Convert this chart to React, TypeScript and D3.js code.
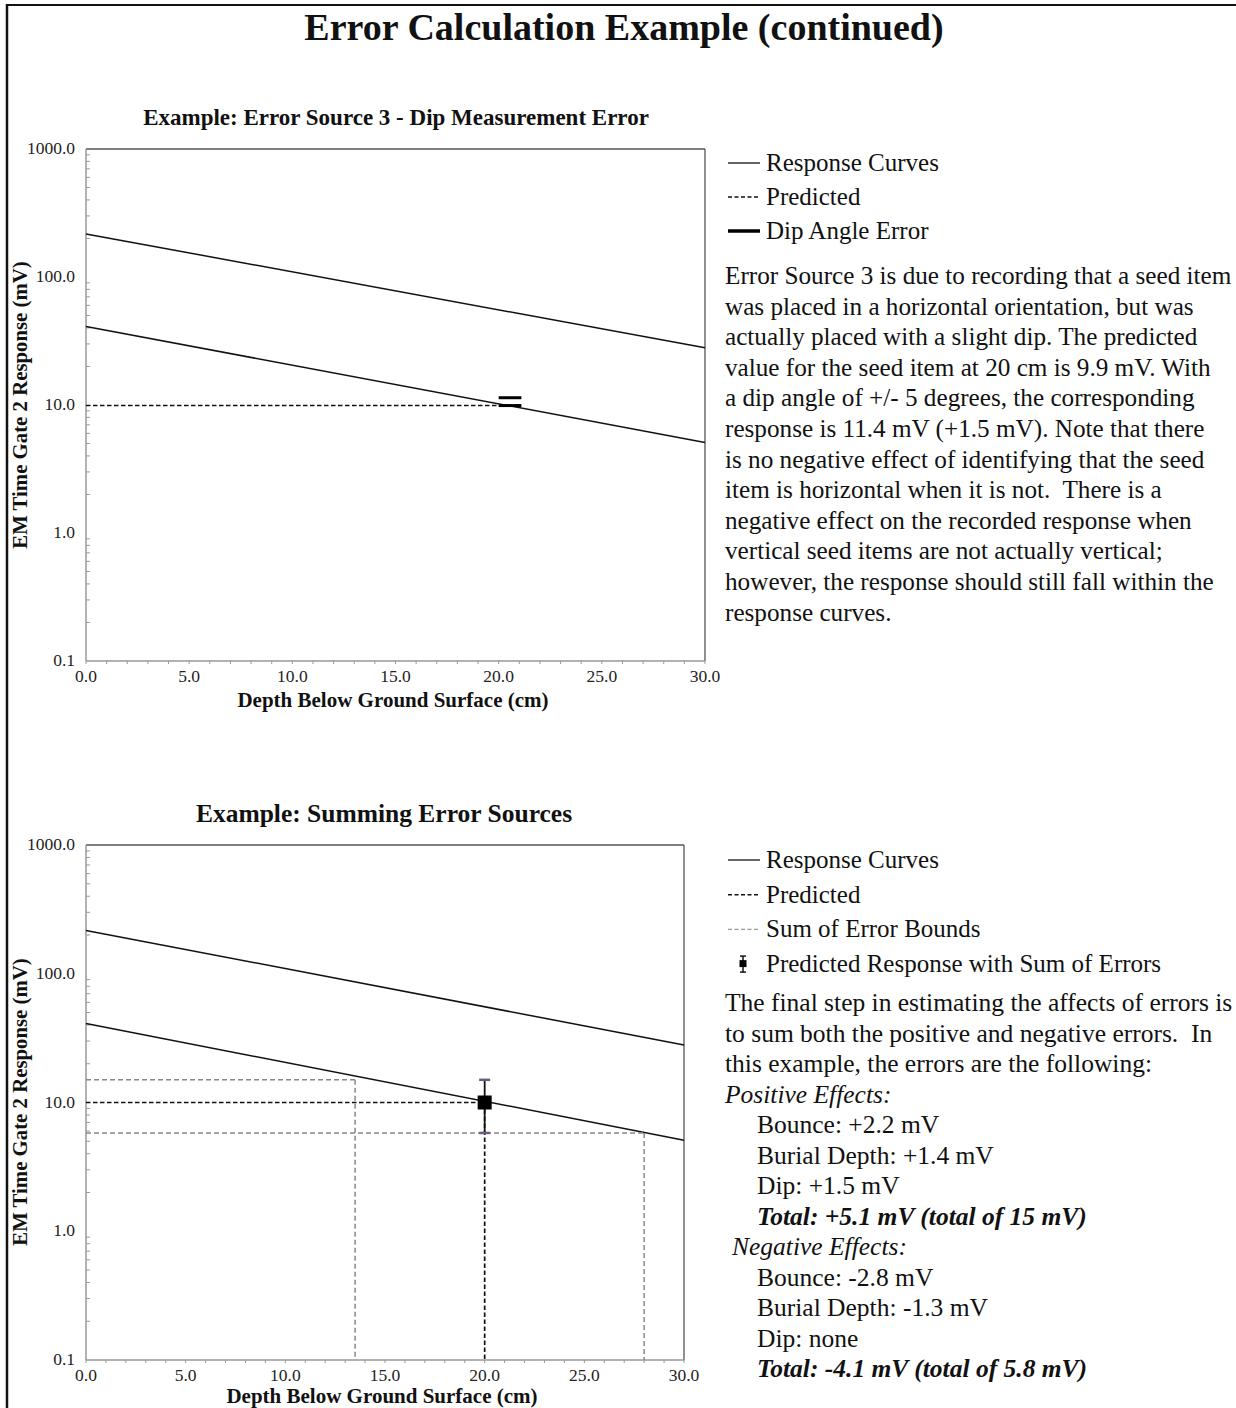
import React from "react";
import * as d3 from "d3";

// ---- data ----
const depthEnds = [0, 30];
const upperCurve = [217, 28];
const lowerCurve = [41, 5.1];
const xTicks = [0, 5, 10, 15, 20, 25, 30];
const yTicks = [0.1, 1, 10, 100, 1000];

const predictedDepth = 20;
const predictedTop = 9.9;
const dipError = [11.4, 9.9];
const dipErrorDepths = [20, 21.1];

const predictedBottom = 10;
const errorBounds = [15, 5.8];
const errorBoundDepths = [13.5, 28];

const legendTop = ["Response Curves", "Predicted", "Dip Angle Error"];
const legendBottom = ["Response Curves", "Predicted", "Sum of Error Bounds", "Predicted Response with Sum of Errors"];

const paraTop = [
  "Error Source 3 is due to recording that a seed item",
  "was placed in a horizontal orientation, but was",
  "actually placed with a slight dip. The predicted",
  "value for the seed item at 20 cm is 9.9 mV. With",
  "a dip angle of +/- 5 degrees, the corresponding",
  "response is 11.4 mV (+1.5 mV). Note that there",
  "is no negative effect of identifying that the seed",
  "item is horizontal when it is not.  There is a",
  "negative effect on the recorded response when",
  "vertical seed items are not actually vertical;",
  "however, the response should still fall within the",
  "response curves.",
];

// [text, indent x, style]
const paraBottom: [string, number, string][] = [
  ["The final step in estimating the affects of errors is", 725, "n"],
  ["to sum both the positive and negative errors.  In", 725, "n"],
  ["this example, the errors are the following:", 725, "n"],
  ["Positive Effects:", 725, "i"],
  ["Bounce: +2.2 mV", 757, "n"],
  ["Burial Depth: +1.4 mV", 757, "n"],
  ["Dip: +1.5 mV", 757, "n"],
  ["Total: +5.1 mV (total of 15 mV)", 757, "bi"],
  ["Negative Effects:", 732, "i"],
  ["Bounce: -2.8 mV", 757, "n"],
  ["Burial Depth: -1.3 mV", 757, "n"],
  ["Dip: none", 757, "n"],
  ["Total: -4.1 mV (total of 5.8 mV)", 757, "bi"],
];

const FONT = "'Liberation Serif', 'Times New Roman', serif";
const PARA = 25.5;
const PARA_A = 25.2;
const LEG = 25;

type Box = { left: number; right: number; top: number; bottom: number };

function Axes({ box, x, y }: { box: Box; x: any; y: any }) {
  const minorX = d3.range(0, 31, 1);
  const minorY: number[] = [];
  for (let e = -1; e < 3; e++) for (let k = 2; k <= 9; k++) minorY.push(k * Math.pow(10, e));
  return (
    <g>
      <line x1={box.left} x2={box.right} y1={box.top} y2={box.top} stroke="#555" strokeWidth={1.3} />
      <line x1={box.right} x2={box.right} y1={box.top} y2={box.bottom} stroke="#555" strokeWidth={1.3} />
      <line x1={box.left} x2={box.left} y1={box.top} y2={box.bottom} stroke="#999" strokeWidth={1.5} />
      <line x1={box.left} x2={box.right} y1={box.bottom} y2={box.bottom} stroke="#999" strokeWidth={1.5} />
      {minorX.map((v) => (
        <line key={"mx" + v} x1={x(v)} x2={x(v)} y1={box.bottom} y2={box.bottom + 3} stroke="#999" strokeWidth={1} />
      ))}
      {minorY.map((v) => (
        <line key={"my" + v} x1={box.left} x2={box.left + 4} y1={y(v)} y2={y(v)} stroke="#999" strokeWidth={1} />
      ))}
      {xTicks.map((v) => (
        <text key={"tx" + v} x={x(v)} y={box.bottom + 21} textAnchor="middle" fontSize={17.5} fontFamily={FONT} fill="#222">
          {v.toFixed(1)}
        </text>
      ))}
      {yTicks.map((v) => (
        <text key={"ty" + v} x={box.left - 11} y={y(v) + 5} textAnchor="end" fontSize={17.5} fontFamily={FONT} fill="#222">
          {v.toFixed(1)}
        </text>
      ))}
    </g>
  );
}

function Curves({ x, y }: { x: any; y: any }) {
  const line = d3
    .line<number>()
    .x((_, i) => x(depthEnds[i]))
    .y((d) => y(d));
  return (
    <g>
      <path d={line(upperCurve) || ""} fill="none" stroke="#111" strokeWidth={1.5} />
      <path d={line(lowerCurve) || ""} fill="none" stroke="#111" strokeWidth={1.5} />
    </g>
  );
}

export default function App() {
  const boxA: Box = { left: 86, right: 705, top: 149, bottom: 661 };
  const boxB: Box = { left: 86, right: 684, top: 845, bottom: 1360 };
  const xA = d3.scaleLinear().domain([0, 30]).range([boxA.left, boxA.right]);
  const yA = d3.scaleLog().domain([0.1, 1000]).range([boxA.bottom, boxA.top]);
  const xB = d3.scaleLinear().domain([0, 30]).range([boxB.left, boxB.right]);
  const yB = d3.scaleLog().domain([0.1, 1000]).range([boxB.bottom, boxB.top]);

  const legendX1 = 728;
  const legendX2 = 760;
  const legendTextX = 766;

  return (
    <svg width={1236} height={1408} style={{ position: "absolute", left: 0, top: 0, background: "#fff" }}>
      <rect x={0} y={0} width={1236} height={1408} fill="#fff" />
      {/* page border */}
      <line x1={6} x2={1236} y1={5} y2={5} stroke="#111" strokeWidth={2} />
      <line x1={7} x2={7} y1={4} y2={1408} stroke="#111" strokeWidth={2.5} />

      <text x={624} y={40} textAnchor="middle" fontSize={38} fontWeight="bold" fontFamily={FONT} fill="#111">
        Error Calculation Example (continued)
      </text>

      {/* ---------- Chart A ---------- */}
      <text x={396} y={125} textAnchor="middle" fontSize={23} fontWeight="bold" fontFamily={FONT} fill="#111">
        Example: Error Source 3 - Dip Measurement Error
      </text>
      <Axes box={boxA} x={xA} y={yA} />
      <Curves x={xA} y={yA} />
      <line x1={xA(0)} x2={xA(predictedDepth)} y1={yA(predictedTop)} y2={yA(predictedTop)} stroke="#111" strokeWidth={1.6} strokeDasharray="4.5,2.5" />
      {dipError.map((v, i) => (
        <line key={"dip" + i} x1={xA(dipErrorDepths[0])} x2={xA(dipErrorDepths[1])} y1={yA(v)} y2={yA(v)} stroke="#000" strokeWidth={3} />
      ))}
      <text x={393} y={707} textAnchor="middle" fontSize={21} fontWeight="bold" fontFamily={FONT} fill="#111">
        Depth Below Ground Surface (cm)
      </text>
      <text transform="translate(27,405) rotate(-90)" textAnchor="middle" fontSize={20.8} fontWeight="bold" fontFamily={FONT} fill="#111">
        EM Time Gate 2 Response (mV)
      </text>

      {/* legend A */}
      {legendTop.map((t, i) => {
        const cy = 163 + i * 34;
        return (
          <g key={"la" + i}>
            {i === 0 && <line x1={legendX1} x2={legendX2} y1={cy} y2={cy} stroke="#111" strokeWidth={1.3} />}
            {i === 1 && <line x1={legendX1} x2={legendX2} y1={cy} y2={cy} stroke="#111" strokeWidth={1.5} strokeDasharray="4,2.5" />}
            {i === 2 && <line x1={legendX1} x2={legendX2} y1={cy} y2={cy} stroke="#000" strokeWidth={3.5} />}
            <text x={legendTextX} y={cy + 8} fontSize={LEG} fontFamily={FONT} fill="#111">
              {t}
            </text>
          </g>
        );
      })}
      {paraTop.map((t, i) => (
        <text key={"pa" + i} x={725} y={284 + i * 30.6} fontSize={PARA_A} fontFamily={FONT} fill="#111" style={{ whiteSpace: "pre" }}>
          {t}
        </text>
      ))}

      {/* ---------- Chart B ---------- */}
      <text x={384} y={822} textAnchor="middle" fontSize={25.5} fontWeight="bold" fontFamily={FONT} fill="#111">
        Example: Summing Error Sources
      </text>
      <Axes box={boxB} x={xB} y={yB} />
      <Curves x={xB} y={yB} />
      {errorBounds.map((v, i) => (
        <g key={"eb" + i}>
          <line x1={xB(0)} x2={xB(errorBoundDepths[i])} y1={yB(v)} y2={yB(v)} stroke="#888" strokeWidth={1.5} strokeDasharray="5,3" />
          <line x1={xB(errorBoundDepths[i])} x2={xB(errorBoundDepths[i])} y1={yB(v)} y2={boxB.bottom} stroke="#888" strokeWidth={1.5} strokeDasharray="5,3" />
        </g>
      ))}
      <line x1={xB(0)} x2={xB(predictedDepth)} y1={yB(predictedBottom)} y2={yB(predictedBottom)} stroke="#111" strokeWidth={1.7} strokeDasharray="4.5,2.5" />
      <line x1={xB(predictedDepth)} x2={xB(predictedDepth)} y1={yB(predictedBottom)} y2={boxB.bottom} stroke="#111" strokeWidth={1.7} strokeDasharray="4.5,2.5" />
      {/* error bar */}
      <line x1={xB(predictedDepth)} x2={xB(predictedDepth)} y1={yB(errorBounds[0])} y2={yB(errorBounds[1])} stroke="#111" strokeWidth={1.8} />
      {errorBounds.map((v, i) => (
        <line key={"cap" + i} x1={xB(predictedDepth) - 5.5} x2={xB(predictedDepth) + 5.5} y1={yB(v)} y2={yB(v)} stroke="#6a5a80" strokeWidth={2.5} />
      ))}
      <rect x={xB(predictedDepth) - 7} y={yB(predictedBottom) - 7} width={14} height={14} fill="#000" />
      <text x={382} y={1403} textAnchor="middle" fontSize={21} fontWeight="bold" fontFamily={FONT} fill="#111">
        Depth Below Ground Surface (cm)
      </text>
      <text transform="translate(27,1102) rotate(-90)" textAnchor="middle" fontSize={20.8} fontWeight="bold" fontFamily={FONT} fill="#111">
        EM Time Gate 2 Response (mV)
      </text>

      {/* legend B */}
      {legendBottom.map((t, i) => {
        const cy = 860 + i * 34.7;
        return (
          <g key={"lb" + i}>
            {i === 0 && <line x1={legendX1} x2={legendX2} y1={cy} y2={cy} stroke="#111" strokeWidth={1.3} />}
            {i === 1 && <line x1={legendX1} x2={legendX2} y1={cy} y2={cy} stroke="#111" strokeWidth={1.6} strokeDasharray="4,2.5" />}
            {i === 2 && <line x1={legendX1} x2={legendX2} y1={cy} y2={cy} stroke="#999" strokeWidth={1.3} strokeDasharray="4,2.5" />}
            {i === 3 && (
              <g>
                <line x1={743} x2={743} y1={cy - 8} y2={cy + 8} stroke="#111" strokeWidth={1.5} />
                <line x1={740} x2={746} y1={cy - 8} y2={cy - 8} stroke="#111" strokeWidth={1.5} />
                <line x1={740} x2={746} y1={cy + 8} y2={cy + 8} stroke="#111" strokeWidth={1.5} />
                <rect x={739.5} y={cy - 4} width={7} height={7} fill="#000" />
              </g>
            )}
            <text x={legendTextX} y={cy + 8} fontSize={LEG} fontFamily={FONT} fill="#111">
              {t}
            </text>
          </g>
        );
      })}
      {paraBottom.map(([t, px, st], i) => (
        <text
          key={"pb" + i}
          x={px}
          y={1011 + i * 30.5}
          fontSize={PARA}
          fontFamily={FONT}
          fill="#111"
          style={{ whiteSpace: "pre" }}
          fontStyle={st.includes("i") ? "italic" : "normal"}
          fontWeight={st.includes("b") ? "bold" : "normal"}
        >
          {t}
        </text>
      ))}
    </svg>
  );
}
